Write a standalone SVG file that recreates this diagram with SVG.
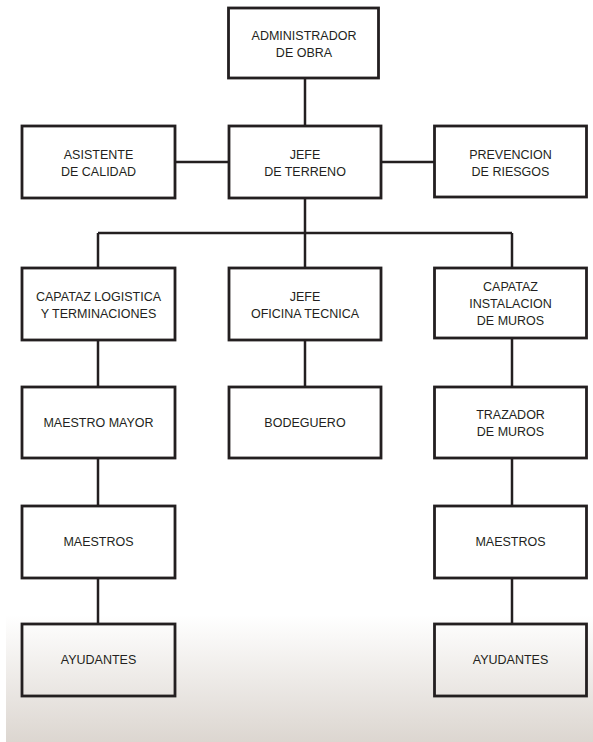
<svg xmlns="http://www.w3.org/2000/svg" width="593" height="742" viewBox="0 0 593 742">
<defs>
<linearGradient id="bg" x1="0" y1="615" x2="0" y2="742" gradientUnits="userSpaceOnUse">
<stop offset="0" stop-color="#ffffff"/>
<stop offset="1" stop-color="#dcd6d0"/>
</linearGradient>
<style>
.box{fill:none;stroke:#231f20;stroke-width:2.8}
.ln{fill:none;stroke:#231f20;stroke-width:2.5}
text{font-family:"Liberation Sans",Arial,sans-serif;font-size:12.5px;fill:#231f20;text-anchor:middle}
</style>
</defs>
<rect x="0" y="0" width="593" height="742" fill="#ffffff"/>
<rect x="6" y="600" width="587" height="142" fill="url(#bg)"/>
<g id="connectors">
<path class="ln" d="M305 78V126"/>
<path class="ln" d="M175 162H229"/>
<path class="ln" d="M381 162H434.5"/>
<path class="ln" d="M305 198V233"/>
<path class="ln" d="M98 233H512"/>
<path class="ln" d="M98 233V268"/>
<path class="ln" d="M305 233V268"/>
<path class="ln" d="M512 233V268"/>
<path class="ln" d="M98 340V387"/>
<path class="ln" d="M305 340V387"/>
<path class="ln" d="M512 338V387"/>
<path class="ln" d="M98 458V506"/>
<path class="ln" d="M512 458V506"/>
<path class="ln" d="M98 578V624"/>
<path class="ln" d="M512 578V624"/>
</g>
<g id="administrador"><rect class="box" x="228.5" y="8" width="150" height="70"/><text x="304" y="39.5">ADMINISTRADOR</text><text x="304" y="57">DE OBRA</text></g>
<g id="asistente"><rect class="box" x="22" y="126" width="153" height="72"/><text x="98.5" y="158.5">ASISTENTE</text><text x="98.5" y="176">DE CALIDAD</text></g>
<g id="jefe-terreno"><rect class="box" x="229" y="126" width="152" height="72"/><text x="305" y="158.5">JEFE</text><text x="305" y="176">DE TERRENO</text></g>
<g id="prevencion"><rect class="box" x="434.5" y="126" width="152" height="71"/><text x="510.5" y="158.5">PREVENCION</text><text x="510.5" y="176">DE RIESGOS</text></g>
<g id="capataz-logistica"><rect class="box" x="22" y="268" width="153" height="72"/><text x="98.5" y="300.5">CAPATAZ LOGISTICA</text><text x="98.5" y="318">Y TERMINACIONES</text></g>
<g id="jefe-oficina"><rect class="box" x="229" y="268" width="152" height="72"/><text x="305" y="300.5">JEFE</text><text x="305" y="318">OFICINA TECNICA</text></g>
<g id="capataz-muros"><rect class="box" x="434.5" y="268" width="152" height="70"/><text x="510.5" y="291">CAPATAZ</text><text x="510.5" y="308">INSTALACION</text><text x="510.5" y="325">DE MUROS</text></g>
<g id="maestro-mayor"><rect class="box" x="22" y="387" width="153" height="71"/><text x="98.5" y="427">MAESTRO MAYOR</text></g>
<g id="bodeguero"><rect class="box" x="229" y="387" width="152" height="71"/><text x="305" y="427">BODEGUERO</text></g>
<g id="trazador"><rect class="box" x="434.5" y="387" width="152" height="71"/><text x="510.5" y="418.5">TRAZADOR</text><text x="510.5" y="436">DE MUROS</text></g>
<g id="maestros-izq"><rect class="box" x="22" y="506" width="153" height="72"/><text x="98.5" y="546">MAESTROS</text></g>
<g id="maestros-der"><rect class="box" x="434.5" y="506" width="152" height="72"/><text x="510.5" y="546">MAESTROS</text></g>
<g id="ayudantes-izq"><rect class="box" x="22" y="624" width="153" height="72"/><text x="98.5" y="664">AYUDANTES</text></g>
<g id="ayudantes-der"><rect class="box" x="434.5" y="624" width="152" height="72"/><text x="510.5" y="664">AYUDANTES</text></g>
</svg>
